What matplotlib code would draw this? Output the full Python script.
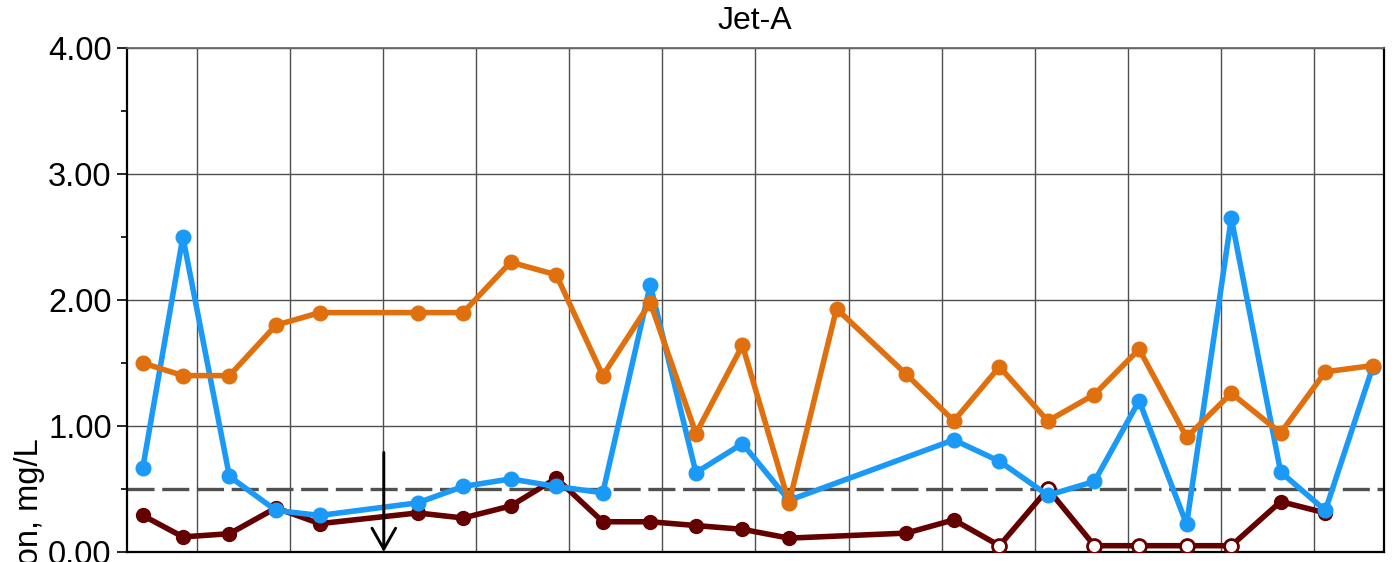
import numpy as np
import matplotlib
matplotlib.use("Agg")
import matplotlib.pyplot as plt

plt.rcParams['font.family'] = ['Liberation Sans', 'DejaVu Sans']
plt.rcParams['lines.scale_dashes'] = False

title = "Jet-A"
y_label = "Concentration, mg/L"

# sample positions (in grid-interval units along the time axis)
t = [0.17, 0.60, 1.10, 1.60, 2.07, 3.12, 3.61, 4.12, 4.61, 5.11, 5.62, 6.11, 6.61,
     7.11, 7.62, 8.37, 8.88, 9.37, 9.89, 10.39, 10.87, 11.38, 11.86, 12.39, 12.87, 13.38]
nan = np.nan
blue_vals = [0.67, 2.50, 0.60, 0.33, 0.29, 0.39, 0.52, 0.58, 0.52, 0.47, 2.12, 0.63, 0.86,
             0.41, nan, nan, 0.89, 0.72, 0.45, 0.56, 1.20, 0.22, 2.65, 0.635, 0.33, 1.47]
orange_vals = [1.50, 1.40, 1.40, 1.80, 1.90, 1.90, 1.90, 2.30, 2.20, 1.40, 1.98, 0.94, 1.64,
               0.39, 1.93, 1.41, 1.04, 1.47, 1.04, 1.25, 1.61, 0.91, 1.26, 0.945, 1.43, 1.48]
red_vals = [0.29, 0.12, 0.145, 0.35, 0.225, 0.31, 0.27, 0.365, 0.585, 0.24, 0.24, 0.21, 0.18,
            0.11, nan, 0.15, 0.255, 0.05, 0.50, 0.05, 0.05, 0.05, 0.05, 0.40, 0.31, nan]
red_nondetect = [False] * 17 + [True] * 6 + [False] * 3

threshold = 0.5
arrow_x = 2.758
arrow_top = 0.79

y_ticks = [0.0, 1.0, 2.0, 3.0, 4.0]
y_tick_labels = ["0.00", "1.00", "2.00", "3.00", "4.00"]
x_grid = [0.75 + k for k in range(13)]

W, H = 1396, 562
fig = plt.figure(figsize=(W / 100, H / 100), dpi=100)
ax = fig.add_axes([127 / W, (H - 552) / H, 1257 / W, 504 / H])

t_arr = np.array(t)

def series(vals):
    v = np.array(vals, dtype=float)
    m = ~np.isnan(v)
    return t_arr[m], v[m], m

BLUE = '#1A9AF6'
ORANGE = '#E0700E'
DRED = '#650000'
LW = 4.0

# dark red
xr, yr, mr = series(red_vals)
nd = np.array(red_nondetect)[mr]
ax.plot(xr, yr, color=DRED, lw=LW, zorder=3, solid_capstyle='round')
ax.plot(xr[~nd], yr[~nd], 'o', color=DRED, ms=10, zorder=3.1)
ax.plot(xr[nd], yr[nd], 'o', mfc='white', mec=DRED, mew=2.0, ms=10, zorder=3.1)

# blue
xb, yb, _ = series(blue_vals)
ax.plot(xb, yb, '-o', color=BLUE, lw=LW, ms=10.5, zorder=4)

# orange
xo, yo, _ = series(orange_vals)
ax.plot(xo, yo, '-o', color=ORANGE, lw=LW, ms=10.5, zorder=5)

# threshold dashed line
ax.axhline(threshold, color='#505050', lw=2.4, dashes=(19.5, 5.5), zorder=2.5)

# arrow
ax.annotate('', xy=(arrow_x, 0.0), xytext=(arrow_x, arrow_top),
            arrowprops=dict(arrowstyle='->,head_length=1.5,head_width=0.85',
                            lw=2.1, color='black', shrinkA=0, shrinkB=0,
                            mutation_scale=10), zorder=6)

ax.set_xlim(0, 13.5)
ax.set_ylim(0, 4)
ax.set_xticks(x_grid)
ax.tick_params(axis='x', length=0, labelbottom=False)
ax.set_yticks(y_ticks)
ax.set_yticklabels(y_tick_labels)
ax.set_yticks([0.5, 1.5, 2.5, 3.5], minor=True)
ax.tick_params(axis='y', which='major', length=7, width=1.2, labelsize=23.5, pad=4)
ax.tick_params(axis='y', which='minor', length=4, width=1.2)
ax.grid(True, which='major', color='#4f4f4f', lw=1.0, zorder=0)
ax.set_axisbelow(True)

for side in ['left', 'bottom', 'right']:
    ax.spines[side].set_color('black')
    ax.spines[side].set_linewidth(1.6)
ax.spines['top'].set_color('#6a6a6a')
ax.spines['top'].set_linewidth(1.3)

fig.text(755 / W, 1 - 21 / H, title, ha='center', va='center', fontsize=23)
fig.text(30 / W, 1 - 438 / H, y_label, rotation=90, ha='center', va='top', fontsize=23.5)

fig.savefig('out.png', dpi=100)
